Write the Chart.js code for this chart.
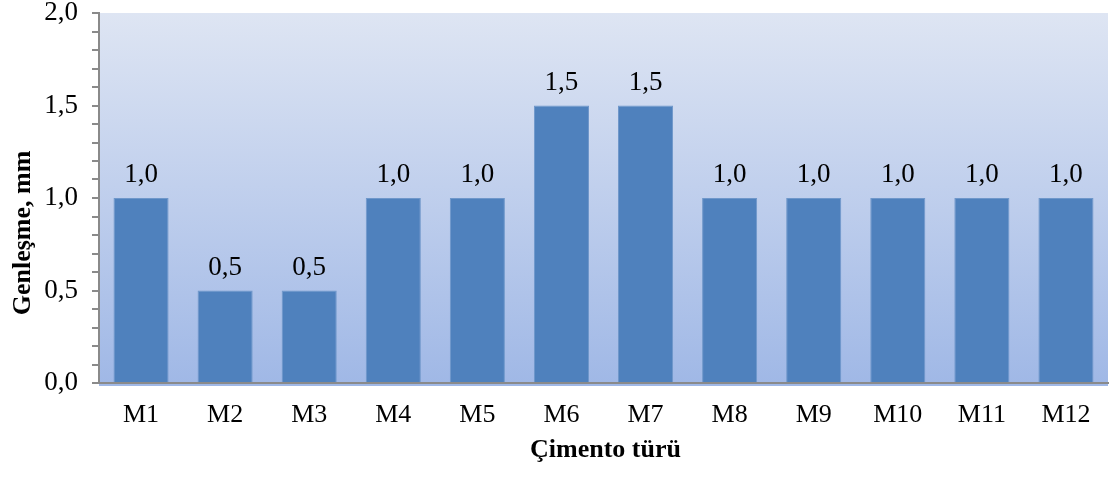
<!DOCTYPE html>
<html>
<head>
<meta charset="utf-8">
<script src="https://cdn.jsdelivr.net/npm/chart.js@4/dist/chart.umd.min.js"></script>
<style>
  html, body { margin: 0; padding: 0; background: #ffffff; }
  #wrap { width: 1109px; height: 480px; position: relative; }
</style>
</head>
<body>
<div id="wrap"><canvas id="c"></canvas></div>
<script>
// Cement types and their measured expansion (mm)
const categories = ['M1', 'M2', 'M3', 'M4', 'M5', 'M6', 'M7', 'M8', 'M9', 'M10', 'M11', 'M12'];
const expansion = [1.0, 0.5, 0.5, 1.0, 1.0, 1.5, 1.5, 1.0, 1.0, 1.0, 1.0, 1.0];
const yTickLabels = ['0,0', '0,5', '1,0', '1,5', '2,0'];
const xTitle = 'Çimento türü';
const yTitle = 'Genleşme, mm';

const SERIF = '"Liberation Serif", "Times New Roman", "DejaVu Serif", serif';
const fmt = v => v.toFixed(1).replace('.', ',');

// Plot background: vertical gradient behind the bars
const plotBackground = {
  id: 'plotBackground',
  beforeDraw(chart) {
    const { ctx, chartArea: a } = chart;
    const g = ctx.createLinearGradient(0, a.top, 0, a.bottom);
    g.addColorStop(0, '#dee5f3');
    g.addColorStop(1, '#a0b8e6');
    ctx.save();
    ctx.fillStyle = g;
    ctx.fillRect(a.left, a.top, a.right - a.left, a.bottom - a.top + 3);
    ctx.restore();
  }
};

// Value labels above bars plus axis titles
const annotations = {
  id: 'annotations',
  afterDatasetsDraw(chart) {
    const { ctx, chartArea: a } = chart;
    const meta = chart.getDatasetMeta(0);
    ctx.save();
    ctx.fillStyle = '#000000';
    ctx.font = '27px ' + SERIF;
    ctx.textAlign = 'center';
    ctx.textBaseline = 'alphabetic';
    meta.data.forEach((bar, i) => {
      ctx.fillText(fmt(expansion[i]), bar.x, bar.y - 16);
    });
    // x-axis title
    ctx.font = 'bold 26px ' + SERIF;
    ctx.fillText(xTitle, (a.left + a.right) / 2 + 2, 457);
    // y-axis title (rotated)
    ctx.textBaseline = 'middle';
    ctx.translate(23, 233);
    ctx.rotate(-Math.PI / 2);
    ctx.fillText(yTitle, 0, 0);
    ctx.restore();
  }
};

new Chart(document.getElementById('c'), {
  type: 'bar',
  data: {
    labels: categories,
    datasets: [{
      data: expansion,
      backgroundColor: '#4f81bd',
      borderColor: '#6f97ca',
      borderWidth: 1,
      borderSkipped: 'bottom',
      barPercentage: 0.655,
      categoryPercentage: 1.0
    }]
  },
  options: {
    responsive: true,
    maintainAspectRatio: false,
    animation: false,
    layout: { padding: { top: 13, right: 1, left: 0, bottom: 0 } },
    plugins: {
      legend: { display: false },
      tooltip: { enabled: false }
    },
    scales: {
      x: {
        grid: { display: true, drawOnChartArea: false, drawTicks: false },
        border: { display: true, color: '#8a8a8a', width: 2 },
        ticks: {
          color: '#000000',
          font: { family: SERIF, size: 26, lineHeight: 1.2 },
          padding: 17,
          maxRotation: 0
        },
        afterFit(scale) { scale.height = 97; }
      },
      y: {
        min: 0,
        max: 2,
        grid: { display: true, drawOnChartArea: false, drawTicks: true, tickLength: 7, color: '#8a8a8a', lineWidth: 2 },
        border: { display: true, color: '#8a8a8a', width: 2 },
        ticks: {
          stepSize: 0.1,
          autoSkip: false,
          color: '#000000',
          font: { family: SERIF, size: 27, lineHeight: 1.0 },
          padding: 14,
          callback(value) {
            const idx = Math.round(value * 10);
            return idx % 5 === 0 ? yTickLabels[idx / 5] : '';
          }
        },
        afterFit(scale) {
          scale.width = 99;
          scale.paddingTop = 0;
          scale.paddingBottom = 0;
        }
      }
    }
  },
  plugins: [plotBackground, annotations]
});
</script>
</body>
</html>
